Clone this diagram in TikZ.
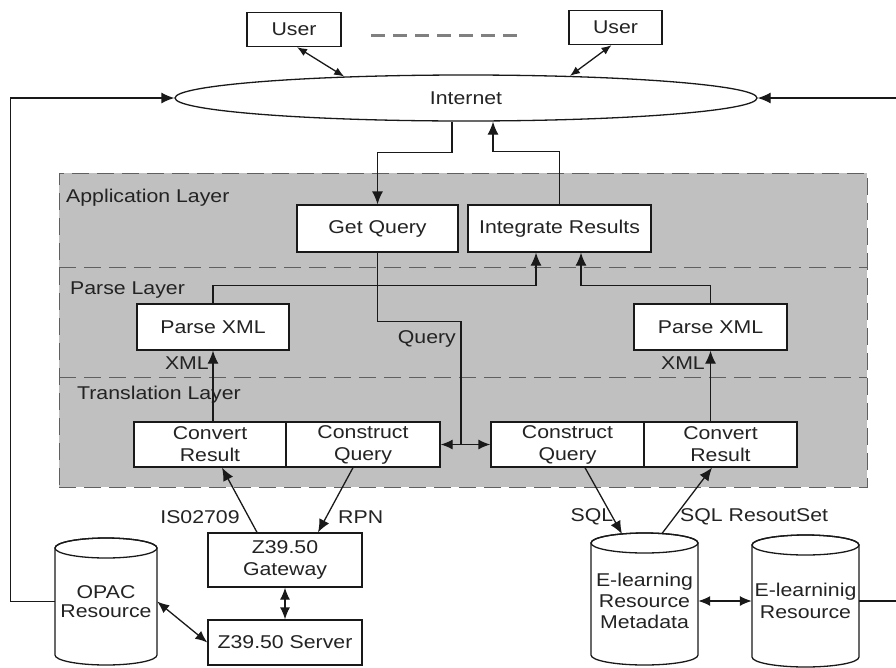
\documentclass[tikz,border=0pt]{standalone}
\usepackage{fontspec}
\setmainfont{Liberation Sans}[FakeStretch=1.15]
\usetikzlibrary{arrows.meta,calc,shapes.geometric}
\definecolor{layergray}{RGB}{192,192,192}
\definecolor{txt}{RGB}{35,35,35}
\definecolor{ln}{RGB}{25,25,25}
\newcommand{\mycyl}[5]{%
  \draw[line width=1.3pt, draw=ln, fill=white] (#1-#4, #2+#5) -- (#1-#4, #3-#5)
    arc[start angle=180, end angle=0, x radius=#4, y radius=#5] -- (#1+#4, #2+#5)
    arc[start angle=0, end angle=-180, x radius=#4, y radius=#5] -- cycle;
  \draw[line width=1.3pt, draw=ln] (#1, #2+#5) ellipse[x radius=#4, y radius=#5];
}
\begin{document}
\begin{tikzpicture}[x=1pt,y=-1pt,
  every node/.style={font=\fontsize{18.5}{22}\selectfont, text=txt},
  box/.style={draw=ln, fill=white, line width=1.3pt, inner sep=0pt, align=center},
  plain/.style={line width=1.3pt, draw=ln},
  conn/.style={line width=1.3pt, draw=ln, -{Latex[length=13pt,width=11pt]}},
  biconn/.style={line width=1.3pt, draw=ln, {Latex[length=12pt,width=10pt]}-{Latex[length=12pt,width=10pt]}},
  smallbi/.style={line width=1.3pt, draw=ln, {Latex[length=10pt,width=8pt]}-{Latex[length=10pt,width=8pt]}},
  lbl/.style={inner sep=0pt},
  layerline/.style={draw=gray!75!black, line width=1pt, dash pattern=on 17pt off 8pt},
]
\useasboundingbox (0,0) rectangle (896,667);
\clip (0,0) rectangle (896,667);

% layer region
\node[fill=layergray, draw=gray!75!black, line width=1pt, dash pattern=on 17pt off 8pt,
      minimum width=808, minimum height=314, inner sep=0pt] (region) at (463,330) {};
\coordinate (l1a) at (59,267); \coordinate (l1b) at (867,267);
\coordinate (l2a) at (59,377); \coordinate (l2b) at (867,377);
\draw[layerline] (l1a) -- (l1b);
\draw[layerline] (l2a) -- (l2b);
\node[lbl, anchor=west] (lapp) at (66,198) {Application Layer};
\node[lbl, anchor=west] (lpar) at (70,290) {Parse Layer};
\node[lbl, anchor=west] (ltra) at (77,395) {Translation Layer};

% top
\node[draw=ln, line width=1.3pt, ellipse, minimum width=582, minimum height=46, inner sep=0pt] (inet) at (466,98) {Internet};
\node[box, minimum width=94, minimum height=34] (u1) at (294,29.5) {User};
\node[box, minimum width=93, minimum height=34] (u2) at (615.5,27.5) {User};
\coordinate (dl) at (371,35); \coordinate (dr) at (523,35);
\draw[gray, line width=3pt, dash pattern=on 14pt off 8pt] (dl) -- (dr);
\draw[smallbi] ([xshift=3pt]u1.south) -- (inet.170);
\draw[smallbi] ([xshift=-4pt]u2.south) -- (inet.12);

% application layer
\node[box, minimum width=161, minimum height=47] (getq) at (377.5,228.5) {Get Query};
\node[box, minimum width=183, minimum height=47] (intr) at (559.5,228.5) {Integrate Results};

% parse layer
\node[box, minimum width=152, minimum height=46] (px1) at (213,327) {Parse XML};
\node[box, minimum width=153, minimum height=46] (px2) at (710.5,327) {Parse XML};

% translation layer
\node[box, minimum width=152, minimum height=45] (cr1) at (210,444.5) {Convert\\Result};
\node[box, minimum width=154, minimum height=45] (cq1) at (363,444.5) {Construct\\Query};
\node[box, minimum width=153, minimum height=45] (cq2) at (567.5,444.5) {Construct\\Query};
\node[box, minimum width=153, minimum height=45] (cr2) at (720.5,444.5) {Convert\\Result};

% bottom
\node[box, minimum width=154, minimum height=54] (gw) at (285,560) {Z39.50\\Gateway};
\node[box, minimum width=154, minimum height=45] (srv) at (285,642.5) {Z39.50 Server};

\mycyl{106}{538}{665}{51}{10}
\mycyl{644.5}{533}{665}{53.5}{10}
\mycyl{805.5}{535}{667}{53.5}{10}
\node[minimum width=102, minimum height=127, inner sep=0pt, align=center, font=\fontsize{18.5}{19}\selectfont] (opac) at (106,601.5) {OPAC\\Resource};
\node[minimum width=107, minimum height=132, inner sep=0pt, align=center, font=\fontsize{18.5}{21}\selectfont] (meta) at (644.5,599) {\\[-3pt]E-learning\\Resource\\Metadata};
\node[minimum width=107, minimum height=132, inner sep=0pt, align=center] (elr) at (805.5,601) {E-learninig\\Resource};

% connectors: internet
\draw[conn] ([xshift=-14pt]inet.south) -- ++(0,31) -| (getq.north);
\draw[conn] (intr.north) -- ++(0,-53) -| ([xshift=27pt]inet.south);
\draw[conn] (opac.west) -- ++(-44,0) |- (inet.west);
\draw[conn] (elr.east) -- ++(70,0) |- (inet.east);

% parse -> integrate
\draw[conn] (px1.north) -- ++(0,-18) -| ([xshift=-23.5pt]intr.south);
\draw[conn] (px2.north) -- ++(0,-18) -| ([xshift=21.5pt]intr.south);

% query
\coordinate (qj) at ($(cq1.east)!0.41!(cq2.west)$);
\draw[biconn] (cq1.east) -- (cq2.west);
\draw[plain] (getq.south) -- ++(0,69) -| (qj);
\node[lbl, anchor=east] (qlbl) at (456,339) {Query};

% XML
\draw[conn] (px1.south |- cr1.north) -- (px1.south);
\draw[conn] (px2.south |- cr2.north) -- (px2.south);
\node[lbl, anchor=east] (xml1) at (209,363) {XML};
\node[lbl, anchor=east] (xml2) at (705,363) {XML};

% Z39.50 side
\draw[conn] ([xshift=-28pt]gw.north) -- ([xshift=12pt]cr1.south);
\draw[conn] ([xshift=-10pt]cq1.south) -- ([xshift=33pt]gw.north);
\node[lbl] (iso) at (200,517) {IS02709};
\node[lbl, anchor=west] (rpn) at (338,517) {RPN};
\draw[biconn] (gw.south) -- (srv.north);
\draw[biconn] (opac.east) -- (srv.west);

% SQL side
\coordinate (mtl) at (622,534);
\coordinate (mtr) at (662,533.5);
\draw[conn] ([xshift=17.5pt]cq2.south) -- (mtl);
\draw[conn] (mtr) -- ([xshift=-8.5pt]cr2.south);
\node[lbl] (sql) at (592,517) {SQL};
\node[lbl, anchor=west] (sqlr) at (680,517) {SQL ResoutSet};
\draw[biconn] (meta.east |- elr.east) -- (elr.west);
\end{tikzpicture}
\end{document}
